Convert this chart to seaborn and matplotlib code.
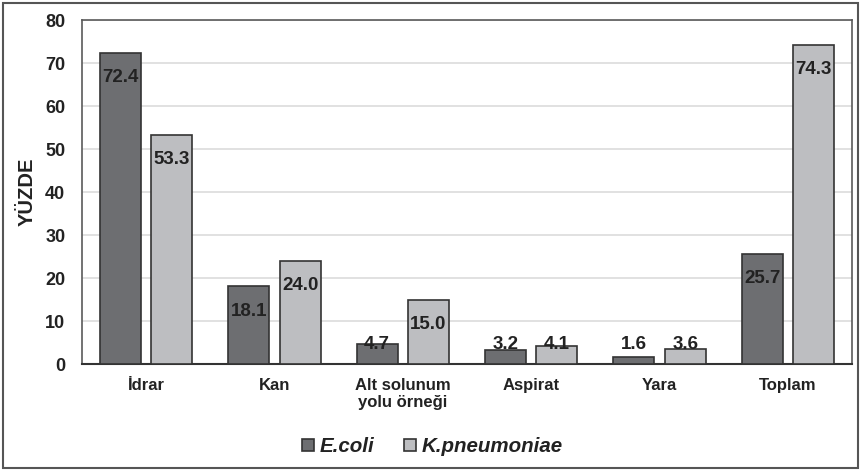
import matplotlib
matplotlib.use("Agg")
import matplotlib.pyplot as plt
from matplotlib.patches import Rectangle
import seaborn as sns
import pandas as pd

categories = ["İdrar", "Kan", "Alt solunum\nyolu örneği", "Aspirat", "Yara", "Toplam"]
ecoli = [72.4, 18.1, 4.7, 3.2, 1.6, 25.7]
kpneu = [53.3, 24.0, 15.0, 4.1, 3.6, 74.3]
series = ["E.coli", "K.pneumoniae"]
yticks = [0, 10, 20, 30, 40, 50, 60, 70, 80]

df = pd.DataFrame({
    "kategori": categories * 2,
    "yuzde": ecoli + kpneu,
    "tur": [series[0]] * len(categories) + [series[1]] * len(categories),
})

sns.set_theme(style="white")
plt.rcParams["font.family"] = ["Liberation Sans", "DejaVu Sans"]
plt.rcParams["font.weight"] = "bold"

text_col = "#222222"
fig = plt.figure(figsize=(8.62, 4.73), dpi=100)
ax = fig.add_axes([0.0951, 0.2304, 0.8933, 0.7273])

sns.barplot(data=df, x="kategori", y="yuzde", hue="tur", order=categories,
            hue_order=series, palette=["#6d6e71", "#bdbec1"], width=0.8, gap=0.2,
            edgecolor="#333333", linewidth=1.2, saturation=1, ax=ax, legend=True,
            zorder=3)

ax.set_ylim(0, 80)
ax.set_yticks(yticks)
ax.set_yticklabels([str(t) for t in yticks], fontsize=13, fontweight="bold", color=text_col)
ax.set_xticks(range(len(categories)))
ax.set_xticklabels(categories, fontsize=12, fontweight="bold", color=text_col,
                   linespacing=1.2)
ax.tick_params(axis="y", length=0, pad=12)
ax.tick_params(axis="x", length=0, pad=10)
ax.set_xlim(-0.5, len(categories) - 0.5)
ax.set_xlabel("")
ax.set_ylabel("YÜZDE", fontsize=14.5, fontweight="bold", color=text_col)
ax.yaxis.set_label_coords(-0.059, 0.5)

ax.yaxis.grid(True, color="#dcdcdc", linewidth=1.2, zorder=0)
ax.set_axisbelow(True)
for side in ["top", "left", "right"]:
    ax.spines[side].set_color("#5a5a5a")
    ax.spines[side].set_linewidth(1.2)
ax.spines["bottom"].set_color("#333333")
ax.spines["bottom"].set_linewidth(1.5)

# value labels: near the top inside tall bars, at a fixed baseline height for short bars
for cont in ax.containers:
    for bar in cont:
        v = bar.get_height()
        y = max(v - 5.8, 4.6)
        ax.text(bar.get_x() + bar.get_width() / 2, y, f"{v:.1f}", ha="center",
                va="center", fontsize=13.5, fontweight="bold", color=text_col, zorder=5)

handles, labels = ax.get_legend_handles_labels()
ax.get_legend().remove()
fig.legend(handles, labels, loc="center", bbox_to_anchor=(0.502, 0.055), ncol=2,
           frameon=False, handlelength=0.56, handleheight=0.56, handletextpad=0.3,
           columnspacing=1.45, prop={"size": 14.8, "weight": "bold", "style": "italic"},
           labelcolor=text_col)

fig.patches.append(Rectangle((0.004, 0.01), 0.991, 0.983, transform=fig.transFigure,
                             fill=False, edgecolor="#555555", linewidth=1.5))

fig.savefig("out.png", dpi=100)
